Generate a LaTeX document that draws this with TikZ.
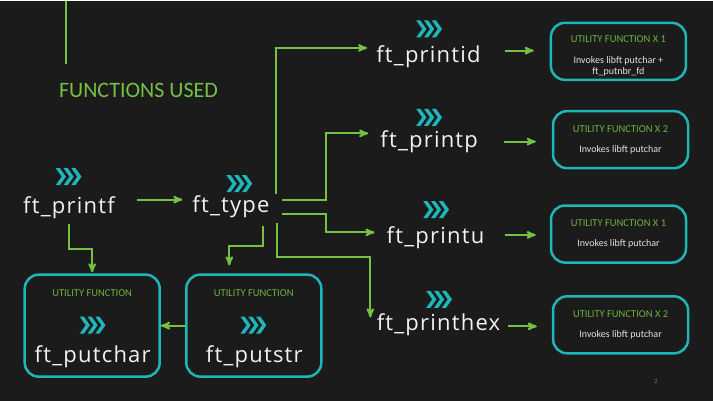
\documentclass[tikz,border=0pt]{standalone}
\usepackage{fontspec}
\newfontfamily\labelfont[LetterSpace=5.5]{Open Sans}
\newfontfamily\smallfont{Carlito}
\usepackage{tikz}
\usetikzlibrary{arrows,positioning}
\definecolor{bgdark}{HTML}{1B1B1B}
\definecolor{fgreen}{HTML}{76C043}
\definecolor{tgreen}{HTML}{6DB33F}
\definecolor{fteal}{HTML}{1FB6B9}
\definecolor{fwhite}{HTML}{F2F2F2}
\definecolor{fgrey}{HTML}{E2E2E2}
\tikzset{
    %Define standard arrow tip
    >=stealth',
    %Define style for function names
    fname/.style={
           anchor=base,
           inner sep=0pt,
           text=fwhite,
           font=\labelfont\fontsize{22}{22}\selectfont},
    %Define style for boxes
    utilbox/.style={
           rectangle,
           rounded corners=14pt,
           draw=fteal, line width=2.5pt,
           minimum width=135pt,
           minimum height=57pt},
    bigbox/.style={
           utilbox,
           minimum height=102pt},
    boxtitle/.style={
           text=tgreen,
           inner sep=0pt,
           font=\smallfont\fontsize{10.5}{10.5}\selectfont},
    boxtext/.style={
           text=fgrey,
           inner sep=0pt,
           align=center,
           font=\smallfont\fontsize{10}{10.5}\selectfont},
    % Define arrow style
    flow/.style={
           ->,
           draw=fgreen,
           line width=2pt},
    chevs/.pic={
           \foreach \i in {0,1,2}
             \fill[fteal] (\i*7.8-12.8,-8.5) -- (\i*7.8-8.6,-8.5) -- (\i*7.8-2.6,0)
               -- (\i*7.8-8.6,8.5) -- (\i*7.8-12.8,8.5) -- (\i*7.8-6.8,0) -- cycle;}
}
\begin{document}
\begin{tikzpicture}[x=1pt,y=-1pt]
\fill[bgdark] (0,0) rectangle (713,400);
\draw[fgreen,line width=1.3pt] (66,0) -- (66,63);
\node[anchor=base,text=fgreen,font=\smallfont\fontsize{22}{22}\selectfont] (heading) at (138.5,96.7) {FUNCTIONS USED};
 %nodes
\node[fname] (printf) at (69,213) {ft\_printf};
\node[fname] (type) at (231,212) {ft\_type};
\node[fname] (printid) at (428.5,61.7) {ft\_printid};
\node[fname] (printp) at (429.2,146.7) {ft\_printp};
\node[fname] (printu) at (435.5,243.3) {ft\_printu};
\node[fname] (printhex) at (438.5,330) {ft\_printhex};
\pic at (68.5,176) {chevs};
\pic at (239.2,183) {chevs};
\pic at (429,28.3) {chevs};
\pic at (429,116.7) {chevs};
\pic at (436,209) {chevs};
\pic at (439,298.7) {chevs};
 %utility boxes
\node[bigbox] (putchar) at (92.2,325) {};
\node[bigbox] (putstr) at (253.8,325) {};
\node[utilbox] (ub1) at (618.4,50.7) {};
\node[utilbox] (ub2) at (620.5,139) {};
\node[utilbox] (ub3) at (618.5,233.4) {};
\node[utilbox] (ub4) at (620.6,324.2) {};
\node[boxtitle] (t1) at ([yshift=12pt]ub1.center) {UTILITY FUNCTION X 1};
\node[boxtext] (x1) at ([yshift=-15pt]ub1.center) {Invokes libft putchar +\\ft\_putnbr\_fd};
\node[boxtitle] (t2) at ([yshift=11pt]ub2.center) {UTILITY FUNCTION X 2};
\node[boxtext] (x2) at ([yshift=-10pt]ub2.center) {Invokes libft putchar};
\node[boxtitle] (t3) at ([yshift=11pt]ub3.center) {UTILITY FUNCTION X 1};
\node[boxtext] (x3) at ([yshift=-10pt]ub3.center) {Invokes libft putchar};
\node[boxtitle] (t4) at ([yshift=11pt]ub4.center) {UTILITY FUNCTION X 2};
\node[boxtext] (x4) at ([yshift=-10pt]ub4.center) {Invokes libft putchar};
\node[boxtitle] (t5) at ([yshift=33pt]putchar.center) {UTILITY FUNCTION};
\node[boxtitle] (t6) at ([yshift=33pt]putstr.center) {UTILITY FUNCTION};
\pic at (92.5,324.5) {chevs};
\pic at (253.3,324.5) {chevs};
\node[fname] (putcharname) at ([shift={(0.5pt,-37.3pt)}]putchar.center) {ft\_putchar};
\node[fname] (putstrname) at ([shift={(0.5pt,-37.3pt)}]putstr.center) {ft\_putstr};
\node[text=gray,font=\smallfont\fontsize{6}{6}\selectfont] (page) at (656,381) {2};
 %connectors
\draw[flow] ([shift={(22pt,14pt)}]printf.base east) -- ([shift={(-10pt,13pt)}]type.base west);
\draw[flow,shorten >=1pt] ([shift={(-0.5pt,-10pt)}]printf.base) -- ++(0,25) -| (putchar.north);
\draw[flow,shorten >=8pt] ([shift={(-6.7pt,-13pt)}]type.base east) -- ++(0,20.7) -| ([xshift=-24.5pt]putstr.north);
\draw[flow] (putstr.west) -- (putchar.east);
\draw[flow] ([shift={(6.7pt,19pt)}]type.base east) |- ([shift={(-9pt,14.4pt)}]printid.base west);
\draw[flow] ([shift={(12.7pt,13pt)}]type.base east) -- ++(43.3,0) |- ([shift={(-12pt,14pt)}]printp.base west);
\draw[flow] ([shift={(12.7pt,-1.3pt)}]type.base east) -- ++(43.3,0) |- ([shift={(-12pt,11.6pt)}]printu.base west);
\draw[flow] ([shift={(7.7pt,-10.7pt)}]type.base east) -- ++(0,33.3) -| ([shift={(-6.3pt,13.3pt)}]printhex.base west);
\draw[flow,shorten >=16pt] ([shift={(24pt,11.7pt)}]printid.base east) coordinate (a1) -- (a1 -| ub1.west);
\draw[flow,shorten >=16pt] ([shift={(26.3pt,5.7pt)}]printp.base east) coordinate (a2) -- (a2 -| ub2.west);
\draw[flow,shorten >=14pt] ([shift={(20.3pt,9pt)}]printu.base east) coordinate (a3) -- (a3 -| ub3.west);
\draw[flow,shorten >=15pt] ([shift={(7.7pt,4.3pt)}]printhex.base east) coordinate (a4) -- (a4 -| ub4.west);
\end{tikzpicture}
\end{document}
